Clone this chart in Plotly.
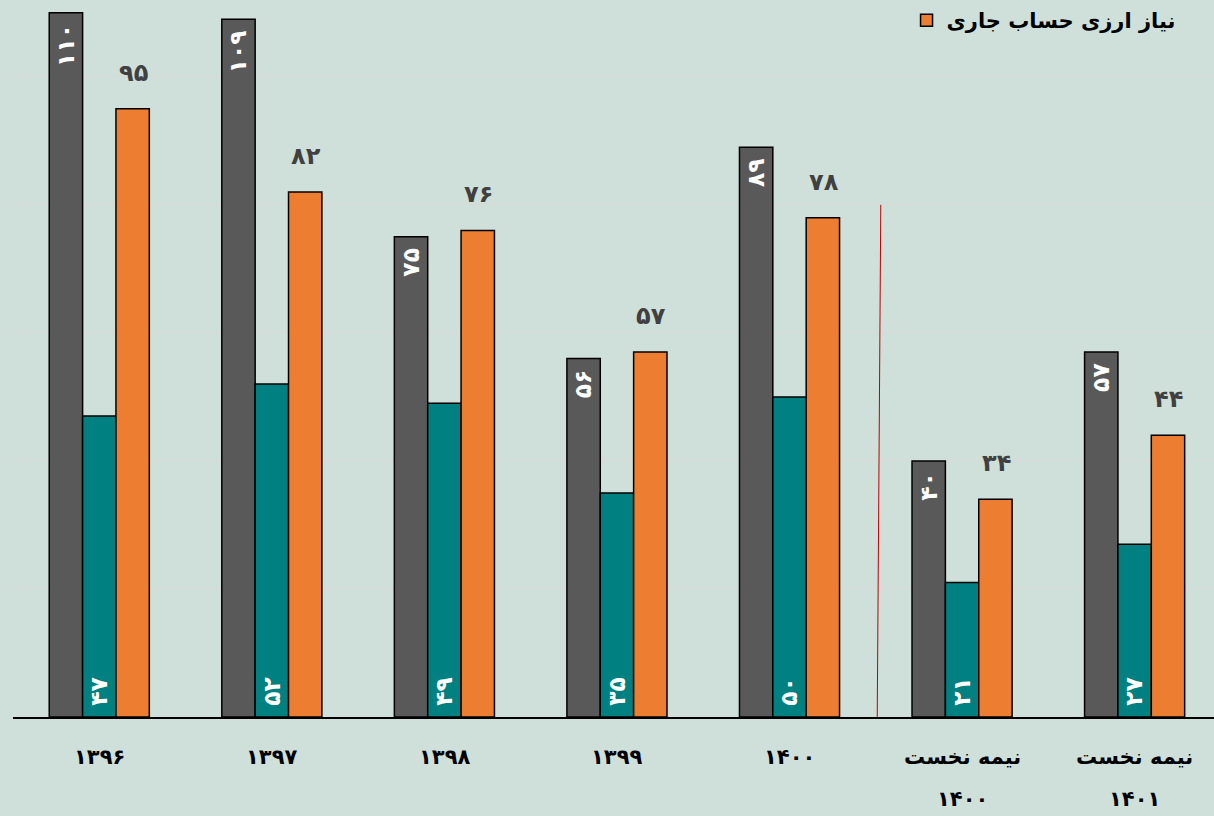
import plotly.graph_objects as go

label_line1 = ["۱۳۹۶", "۱۳۹۷", "۱۳۹۸", "۱۳۹۹", "۱۴۰۰", "نیمه نخست", "نیمه نخست"]
label_line2 = ["", "", "", "", "", "۱۴۰۰", "۱۴۰۱"]
categories = ["c1396", "c1397", "c1398", "c1399", "c1400", "c1400h1", "c1401h1"]

gray_values = [110, 109, 75, 56, 89, 40, 57]
teal_values = [47, 52, 49, 35, 50, 21, 27]
orange_values = [95, 82, 76, 57, 78, 34, 44]
orange_name = "نیاز ارزی حساب جاری"

FA = str.maketrans("0123456789", "۰۱۲۳۴۵۶۷۸۹")
PAD = "\u00a0"


def fa(n):
    return str(n).translate(FA)


FONT = "DejaVu Sans"
BG = "#CFDFDA"

fig = go.Figure()
fig.add_trace(go.Bar(
    x=categories, y=gray_values, name="series 1", showlegend=False,
    marker=dict(color="#595959", line=dict(color="black", width=1.5)),
    text=[fa(v) + PAD for v in gray_values], textposition="inside",
    insidetextanchor="end", textangle=-90,
    textfont=dict(family=FONT, size=24, color="white", weight="bold"),
))
fig.add_trace(go.Bar(
    x=categories, y=teal_values, name="series 2", showlegend=False,
    marker=dict(color="#008080", line=dict(color="black", width=1.5)),
    text=[PAD + fa(v) for v in teal_values], textposition="inside",
    insidetextanchor="start", textangle=-90,
    textfont=dict(family=FONT, size=24, color="white", weight="bold"),
))
fig.add_trace(go.Bar(
    x=categories, y=orange_values, name=orange_name, showlegend=True,
    marker=dict(color="#ED7D31", line=dict(color="black", width=1.5)),
))

annotations = []
for c, v in zip(categories, orange_values):
    annotations.append(dict(
        x=c, y=v, xref="x", yref="y", text=fa(v), showarrow=False,
        xshift=34, yshift=20, yanchor="bottom",
        font=dict(family=FONT, size=24, color="#404040", weight="bold"),
    ))
for c, l1, l2 in zip(categories, label_line1, label_line2):
    annotations.append(dict(
        x=c, y=0, xref="x", yref="y", text=l1, showarrow=False,
        yshift=-40, yanchor="middle",
        font=dict(family=FONT, size=21, color="black", weight="bold"),
    ))
    if l2:
        annotations.append(dict(
            x=c, y=0, xref="x", yref="y", text=l2, showarrow=False,
            yshift=-82, yanchor="middle",
            font=dict(family=FONT, size=21, color="black", weight="bold"),
        ))

fig.update_layout(
    width=1214, height=816,
    paper_bgcolor=BG, plot_bgcolor=BG,
    margin=dict(l=13, r=0, t=0, b=99),
    barmode="group", bargap=0.42, bargroupgap=0,
    showlegend=True,
    legend=dict(x=0.744, y=1.0, xanchor="left", yanchor="top",
                bgcolor="rgba(0,0,0,0)",
                font=dict(family=FONT, size=21, color="black", weight="bold")),
    xaxis=dict(type="category", range=[-0.5, 6.46], showticklabels=False,
               showline=True, linecolor="black", linewidth=2,
               showgrid=False, ticks=""),
    yaxis=dict(range=[0, 112], dtick=20, showticklabels=False,
               showgrid=True, gridcolor="#DDD8D8", gridwidth=1,
               zeroline=False, showline=False),
    annotations=annotations,
    shapes=[dict(type="line", xref="x", yref="y", x0=4.506, x1=4.529,
                 y0=-9.4, y1=80, line=dict(color="#C00000", width=1))],
)
fig.update_traces(cliponaxis=False)

fig.write_html("out.html", config={"displayModeBar": False},
               post_script="document.body.style.margin='0';document.body.style.overflow='hidden';")
